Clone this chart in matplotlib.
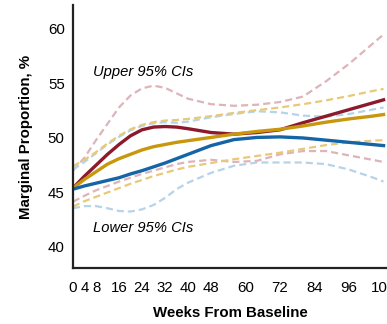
import matplotlib
matplotlib.use('Agg')
import matplotlib.pyplot as plt

plt.rcParams['font.family'] = ['Liberation Sans', 'DejaVu Sans']

weeks = [0, 4, 8, 12, 16, 20, 24, 28, 32, 36, 40, 48, 56, 64, 72, 80, 88, 96, 104, 108]
xtick_vals = [0, 4, 8, 16, 24, 32, 40, 48, 60, 72, 84, 96, 108]
ytick_vals = [40, 45, 50, 55, 60]

# solid estimates
red_est = [45.4, 46.5, 47.5, 48.5, 49.4, 50.2, 50.75, 51.0, 51.05, 51.0, 50.85, 50.5, 50.35, 50.5,
           50.75, 51.4, 52.0, 52.6, 53.2, 53.5]
gold_est = [45.4, 46.2, 46.9, 47.6, 48.1, 48.5, 48.9, 49.2, 49.4, 49.6, 49.75, 50.05, 50.35, 50.6,
            50.8, 51.1, 51.45, 51.75, 52.0, 52.15]
blue_est = [45.3, 45.6, 45.85, 46.1, 46.35, 46.7, 47.0, 47.35, 47.7, 48.1, 48.5, 49.3, 49.85, 50.05,
            50.1, 50.0, 49.8, 49.6, 49.4, 49.3]

# upper CIs
red_up = [47.0, 48.2, 49.8, 51.3, 52.8, 53.9, 54.55, 54.8, 54.6, 54.1, 53.6, 53.1, 52.95, 53.05,
          53.3, 53.8, 55.2, 56.8, 58.6, 59.5]
gold_up = [47.4, 48.0, 48.7, 49.5, 50.2, 50.8, 51.2, 51.45, 51.6, 51.65, 51.75, 52.0, 52.3, 52.55,
           52.8, 53.1, 53.45, 53.85, 54.3, 54.5]
blue_up = [47.1, 47.8, 48.6, 49.4, 50.1, 50.7, 51.1, 51.35, 51.45, 51.4, 51.5, 51.9, 52.2, 52.45,
           52.35, 52.05, 51.95, 52.2, 52.6, 52.8]

# lower CIs
red_lo = [44.15, 44.7, 45.2, 45.6, 46.0, 46.35, 46.7, 47.0, 47.3, 47.6, 47.8, 48.0, 47.8, 47.9,
          48.5, 48.8, 48.8, 48.4, 48.0, 47.8]
gold_lo = [43.7, 44.2, 44.6, 45.0, 45.4, 45.8, 46.15, 46.5, 46.8, 47.1, 47.35, 47.7, 48.05, 48.35,
           48.65, 49.0, 49.35, 49.6, 49.75, 49.8]
blue_lo = [43.55, 43.75, 43.75, 43.55, 43.3, 43.25, 43.45, 43.85, 44.5, 45.3, 45.9, 46.8, 47.45, 47.75,
           47.75, 47.75, 47.6, 47.1, 46.4, 46.0]

c_red, c_gold, c_blue = '#8c1a2c', '#c9970c', '#1565a6'
c_red_l, c_gold_l, c_blue_l = '#ddb4ba', '#e8c978', '#b6d3e9'

fig = plt.figure(figsize=(3.87, 3.24), dpi=100)
ax = fig.add_axes([73 / 387, 56 / 324, 314 / 387, 263 / 324])

dash = (3.2, 1.8)
for ys, c in [(red_up, c_red_l), (red_lo, c_red_l), (blue_up, c_blue_l), (blue_lo, c_blue_l),
              (gold_up, c_gold_l), (gold_lo, c_gold_l)]:
    ax.plot(weeks, ys, color=c, lw=1.6, dashes=dash, solid_capstyle='butt')

ax.plot(weeks, red_est, color=c_red, lw=2.4)
ax.plot(weeks, gold_est, color=c_gold, lw=2.4)
ax.plot(weeks, blue_est, color=c_blue, lw=2.4)

ax.text(7, 56.05, 'Upper 95% CIs', fontsize=10.6, style='italic', va='center')
ax.text(7, 41.75, 'Lower 95% CIs', fontsize=10.6, style='italic', va='center')

ax.set_xlim(0, 109.2)
ax.set_ylim(38.07, 62.2)
ax.set_xticks(xtick_vals)
ax.set_yticks(ytick_vals)
ax.tick_params(axis='x', length=0, pad=9, labelsize=10.8)
ax.tick_params(axis='y', length=0, pad=6, labelsize=10.8)
for s in ['top', 'right']:
    ax.spines[s].set_visible(False)
for s in ['left', 'bottom']:
    ax.spines[s].set_linewidth(1.6)
    ax.spines[s].set_color('#222222')

ax.set_xlabel('Weeks From Baseline', fontsize=10.8, fontweight='bold', labelpad=8)
ax.set_ylabel('Marginal Proportion, %', fontsize=10.8, fontweight='bold', labelpad=11)

fig.savefig('out.png', dpi=100)
